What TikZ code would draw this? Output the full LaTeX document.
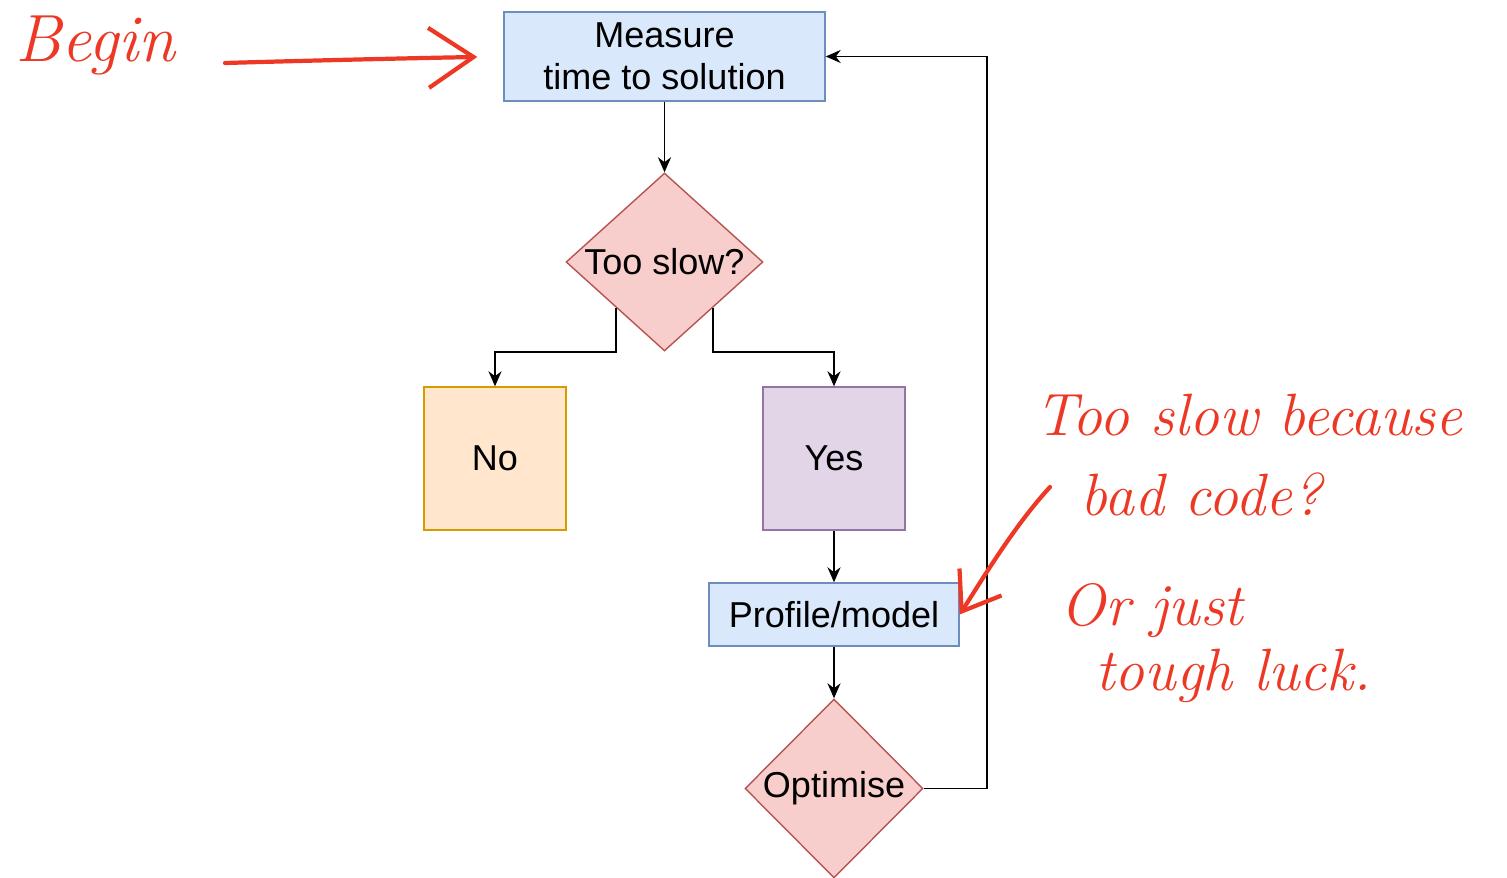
\documentclass[tikz,border=0pt]{standalone}
\usepackage{fontspec}
\setmainfont{Liberation Sans}
\newfontfamily\handfont{Latin Modern Roman}
\usetikzlibrary{shapes.geometric, arrows.meta}
\definecolor{blueFill}{HTML}{DAE8FC}
\definecolor{blueLine}{HTML}{6C8EBF}
\definecolor{redFill}{HTML}{F8CECC}
\definecolor{redLine}{HTML}{B85450}
\definecolor{orangeFill}{HTML}{FFE6CC}
\definecolor{orangeLine}{HTML}{D79B00}
\definecolor{purpleFill}{HTML}{E1D5E7}
\definecolor{purpleLine}{HTML}{9673A6}
\definecolor{ink}{RGB}{236, 56, 36}

\begin{document}
\begin{tikzpicture}[x=0.02cm, y=0.02cm,
    box/.style={rectangle, draw, line width=0.8pt, inner sep=2pt,
                align=center, font=\fontsize{20.5}{24}\selectfont},
    decision/.style={diamond, aspect=1.3, draw=redLine, fill=redFill, line width=0.8pt,
                inner sep=0pt, font=\fontsize{20.5}{24}\selectfont},
    flow/.style={-{Stealth[length=0.3cm, width=0.26cm]}, line width=1.1pt},
    hand/.style={draw=ink, line width=2.4pt, line cap=round, line join=round},
    note/.style={text=ink, font=\handfont\itshape\fontsize{34}{40}\selectfont, inner sep=0pt}]

    \useasboundingbox (0,0) rectangle (1507,-878);

    % Flowchart
    \node[box, fill=blueFill, draw=blueLine, minimum width=6.42cm, minimum height=1.78cm]
        (measure) at (664.5,-56.5) {Measure\\time to solution};
    \node[decision, minimum width=3.94cm, minimum height=3.56cm] (slow) at (664.5,-262) {Too slow?};
    \node[box, fill=orangeFill, draw=orangeLine, minimum width=2.84cm, minimum height=2.86cm]
        (no) at (495,-458.5) {No};
    \node[box, fill=purpleFill, draw=purpleLine, minimum width=2.84cm, minimum height=2.86cm]
        (yes) at (834,-458.5) {Yes};
    \node[box, fill=blueFill, draw=blueLine, minimum width=5cm, minimum height=1.26cm]
        (profile) at (834,-614.5) {Profile/model};
    \node[decision, aspect=1, minimum width=3.56cm, minimum height=3.58cm] (optimise) at (834,-788.5) {Optimise};

    % Connectors
    \draw[flow] (measure) -- (slow);
    \draw[flow] (slow.-137) -- (slow.-137 |- slow.south) -| (no.north);
    \draw[flow] (slow.-43) -- (slow.-43 |- slow.south) -| (yes.north);
    \draw[flow] (yes) -- (profile);
    \draw[flow] (profile) -- (optimise);
    \draw[flow] (optimise.east) -- ++(63,0) |- (measure.east);

    % Handwritten notes
    \node[note, anchor=base west, font=\handfont\itshape\fontsize{38}{44}\selectfont] (begin) at (15,-62) {Begin};
    \node[note, anchor=base west] (line1) at (1035,-435) {Too slow because};
    \node[note, anchor=base west] (line2) at (1080,-515) {bad code?};
    \node[note, anchor=base west] (line3) at (1060,-625) {Or just};
    \node[note, anchor=base west] (line4) at (1095,-690) {tough luck.};

    \coordinate (bstart) at (225,-63);
    \coordinate (nstart) at (1050,-487);
    \draw[hand, -{Straight Barb[length=0.9cm, width=1.2cm]}, shorten >=0.52cm]
        (bstart) .. controls (330,-60) and (420,-58) .. (measure.west);
    \draw[hand, -{Straight Barb[length=0.7cm, width=1.0cm]}]
        (nstart) .. controls (1015,-525) and (985,-575) .. (profile.east);
\end{tikzpicture}
\end{document}
